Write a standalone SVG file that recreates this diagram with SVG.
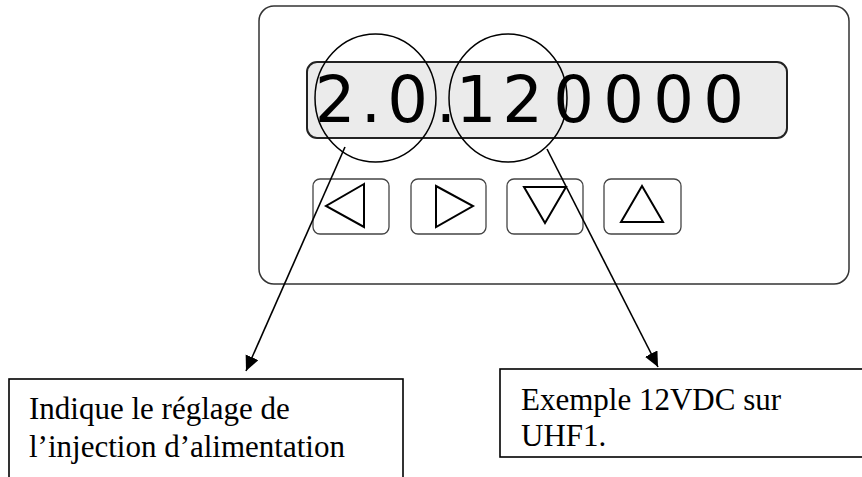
<svg xmlns="http://www.w3.org/2000/svg" width="862" height="477" viewBox="0 0 862 477">
<defs>
<style>
.panel{fill:#fff;stroke:#333;stroke-width:1.5}
.display{fill:#ebebeb;stroke:#222;stroke-width:2}
.btn{fill:#fff;stroke:#444;stroke-width:1.3}
.tri{fill:none;stroke:#000;stroke-width:2;stroke-linejoin:miter}
.ring{fill:none;stroke:#000;stroke-width:1.5}
.conn{fill:none;stroke:#000;stroke-width:1.6}
.box{fill:#fff;stroke:#000;stroke-width:1.6}
.lcd{font-family:"DejaVu Sans","Liberation Sans",sans-serif;font-size:64px;fill:#000}
.lbl{font-family:"Liberation Serif","Times New Roman",serif;font-size:31px;fill:#000}
</style>
<marker id="arr" markerUnits="userSpaceOnUse" markerWidth="16" markerHeight="16" refX="15" refY="7" orient="auto">
<path d="M0,0 L15,7 L0,14 z" fill="#000"/>
</marker>
</defs>
<g id="panel">
<rect class="panel" x="259" y="6" width="590" height="278" rx="15"/>
</g>
<g id="display">
<rect class="display" x="307" y="62" width="480" height="76" rx="10"/>
<text class="lcd" y="122" text-anchor="middle" x="335 371 407.5 446 476 522.5 573.5 623.5 673.5 723.5">2.0.120000</text>
</g>
<g id="btn-left">
<rect class="btn" x="313" y="179" width="76" height="55" rx="7"/>
<polygon class="tri" points="364,184 326,206 364,227"/>
</g>
<g id="btn-right">
<rect class="btn" x="411" y="179" width="75" height="55" rx="7"/>
<polygon class="tri" points="436,186 473,206 436,227"/>
</g>
<g id="btn-down">
<rect class="btn" x="507" y="179" width="76" height="55" rx="7"/>
<polygon class="tri" points="524,187 566,187 545,223"/>
</g>
<g id="btn-up">
<rect class="btn" x="604" y="179" width="77" height="55" rx="7"/>
<polygon class="tri" points="642,186 621,222 663,222"/>
</g>
<g id="circle-left">
<ellipse class="ring" cx="375.5" cy="98" rx="60.5" ry="64"/>
</g>
<g id="circle-right">
<ellipse class="ring" cx="508" cy="98" rx="59" ry="64"/>
</g>
<g id="connectors">
<line class="conn" x1="345" y1="147" x2="246" y2="371" marker-end="url(#arr)"/>
<line class="conn" x1="547" y1="149" x2="658" y2="367" marker-end="url(#arr)"/>
</g>
<g id="note-left">
<rect class="box" x="9" y="379" width="394" height="120"/>
<text class="lbl" x="29" y="419">Indique le réglage de</text>
<text class="lbl" x="29" y="457">l’injection d’alimentation</text>
</g>
<g id="note-right">
<rect class="box" x="500" y="369" width="400" height="88"/>
<text class="lbl" x="521" y="410">Exemple 12VDC sur</text>
<text class="lbl" x="521" y="446">UHF1.</text>
</g>
</svg>
